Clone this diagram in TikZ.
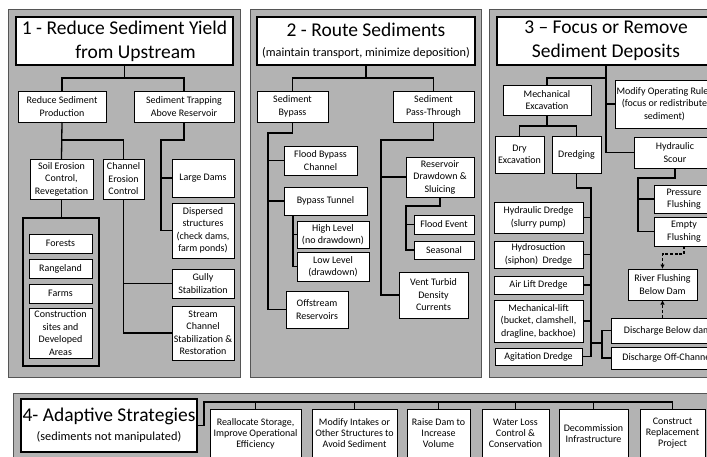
\documentclass[tikz,border=0pt]{standalone}
\usepackage{fontspec}
\setmainfont{Carlito}
\usetikzlibrary{arrows.meta}
\definecolor{panelgray}{RGB}{179,179,179}
\definecolor{paneledge}{RGB}{85,85,85}
\newcommand\bx[7][]{\node[box,#1,minimum width={(#5)-(#3)},minimum height={(#6)-(#4)}] (#2) at ({((#3)+(#5))/2},{((#4)+(#6))/2}) {#7};}
\begin{document}
\begin{tikzpicture}[x=1pt,y=-1pt,
  box/.style={draw,fill=white,line width=0.8pt,align=center,inner sep=1pt,outer sep=0pt,font=\fontsize{10}{12.5}\selectfont},
  lowbox/.style={font=\fontsize{10}{11}\selectfont},
  titlebox/.style={line width=2.2pt,font=\fontsize{19.5}{24}\selectfont},
  landbox/.style={fill=none,line width=2.2pt},
  panel/.style={fill=panelgray,draw=paneledge,line width=1pt},
  conn/.style={line width=1.3pt},
  dconn/.style={line width=1.3pt,dash pattern=on 3pt off 1.8pt,-{Latex[length=4.5pt,width=4.5pt]}},
  sub/.style={font=\fontsize{12.3}{14}\selectfont}]
\useasboundingbox (0,0) rectangle (707,456);
\clip (0,0) rectangle (707,456);
\fill[white] (0,0) rectangle (707,456);
% panels
\draw[panel] (8,9) rectangle (240,377);
\draw[panel] (250,9) rectangle (481,377);
\draw[panel] (489,9) rectangle (730,377);
\draw[panel] (13,393) rectangle (730,480);
% ---------- panel 1
\bx[titlebox]{T1}{16}{17}{233}{65}{1 - Reduce Sediment Yield\\\hspace*{22pt}from Upstream}
\bx{RSP}{18}{91}{106}{122}{Reduce Sediment\\Production}
\bx{STAR}{134}{91}{234}{122}{Sediment Trapping\\Above Reservoir}
\bx{SEC}{30}{159}{93}{199}{Soil Erosion\\Control,\\Revegetation}
\bx{CEC}{103}{159}{144}{199}{Channel\\Erosion\\Control}
\bx{LD}{172}{159}{234}{197}{Large Dams}
\bx{DS}{172}{203}{234}{258}{Dispersed\\structures\\(check dams,\\farm ponds)}
\bx{GS}{172}{269}{234}{298}{Gully\\Stabilization}
\bx{SCS}{172}{306}{234}{360}{Stream\\Channel\\Stabilization \&\\Restoration}
\bx[landbox]{LAND}{23}{218}{99}{366}{}
\bx{FO}{29}{234}{92}{253}{Forests}
\bx{RA}{29}{259}{92}{278}{Rangeland}
\bx{FA}{29}{284}{92}{303}{Farms}
\bx{CO}{29}{308}{92}{358}{Construction\\sites and\\Developed\\Areas}
\draw[conn] (T1.south) -- (T1.south |- 0,78);
\draw[conn] (RSP.north) |- (STAR.north |- 0,78) -- (STAR.north);
\draw[conn] (RSP.south) -- (SEC.north);
\draw[conn] (RSP.south |- 0,140) -| (CEC.north);
\draw[conn] (STAR.south) |- (161,140) |- (DS.west);
\draw[conn] (161,0 |- LD.west) -- (LD.west);
\draw[conn] (CEC.south) |- (SCS.west);
\draw[conn] (CEC.south |- GS.west) -- (GS.west);
\draw[conn] (SEC.south) -- (SEC.south |- LAND.north);
% ---------- panel 2
\bx[titlebox]{T2}{257}{17}{475}{65}{2 - Route Sediments\\[-4pt]{\fontsize{12.3}{14}\selectfont (maintain transport, minimize deposition)}}
\bx{SB}{257}{91}{328}{122}{Sediment\\Bypass}
\bx{SPT}{393}{91}{474}{122}{Sediment\\Pass-Through}
\bx{FBC}{284}{146}{357}{175}{Flood Bypass\\Channel}
\bx{BT}{284}{187}{367}{215}{Bypass Tunnel}
\bx{HL}{297}{221}{369}{248}{High Level\\(no drawdown)}
\bx{LL}{297}{252}{369}{281}{Low Level\\(drawdown)}
\bx{OR}{286}{291}{348}{328}{Offstream\\Reservoirs}
\bx{RDS}{406}{157}{474}{197}{Reservoir\\Drawdown \&\\Sluicing}
\bx{FE}{414}{215}{474}{234}{Flood Event}
\bx{SEA}{414}{241}{474}{259}{Seasonal}
\bx{VTD}{399}{272}{468}{318}{Vent Turbid\\Density\\Currents}
\draw[conn] (T2.south) -- (T2.south |- 0,78);
\draw[conn] (SB.north) |- (SPT.north |- 0,78) -- (SPT.north);
\draw[conn] (SB.south) |- (268,133) |- (OR.west);
\draw[conn] (268,0 |- FBC.west) -- (FBC.west);
\draw[conn] (268,0 |- BT.west) -- (BT.west);
\draw[conn] (293,0 |- BT.south) |- (LL.west);
\draw[conn] (293,0 |- HL.west) -- (HL.west);
\draw[conn] (SPT.south) |- (381,140) |- (VTD.west);
\draw[conn] (381,0 |- RDS.west) -- (RDS.west);
\draw[conn] (RDS.south) |- (406,206) |- (SEA.west);
\draw[conn] (406,0 |- FE.west) -- (FE.west);
% ---------- panel 3
\bx[titlebox]{T3}{497}{17}{715}{65}{3 -- Focus or Remove\\Sediment Deposits}
\bx{ME}{503}{85}{591}{115}{Mechanical\\Excavation}
\bx{MOR}{617}{80}{712}{128}{Modify Operating Rules\\(focus or redistribute\\sediment)}
\bx{HS}{634}{137}{716}{168}{Hydraulic\\Scour}
\bx{DE}{495}{136}{544}{173}{Dry\\Excavation}
\bx{DR}{552}{136}{601}{173}{Dredging}
\bx{HD}{494}{202}{583}{233}{Hydraulic Dredge\\(slurry pump)}
\bx{HYS}{494}{241}{583}{268}{Hydrosuction\\(siphon)~ Dredge}
\bx{AL}{494}{276}{583}{294}{Air Lift Dredge}
\bx{ML}{494}{300}{583}{342}{Mechanical-lift\\(bucket, clamshell,\\dragline, backhoe)}
\bx{AG}{495}{348}{582}{365}{Agitation Dredge}
\bx{PF}{654}{185}{714}{213}{Pressure\\Flushing}
\bx{EF}{654}{217}{714}{246}{Empty\\Flushing}
\bx{RF}{628}{269}{697}{300}{River Flushing\\Below Dam}
\bx{DBD}{611}{318}{724}{343}{Discharge Below dam}
\bx{DOC}{611}{347}{724}{369}{Discharge Off-Channel}
\draw[conn] (T3.south) |- (HS.west);
\draw[conn] (ME.north) |- (T3.south |- 0,78);
\draw[conn] (T3.south |- MOR.west) -- (MOR.west);
\draw[conn] (ME.south) -- (ME.south |- 0,126);
\draw[conn] (DE.north) |- (DR.north |- 0,126) -- (DR.north);
\draw[conn] (DR.south) |- (591,188) |- (AG.east);
\draw[conn] (591,0 |- HD.east) -- (HD.east);
\draw[conn] (591,0 |- HYS.east) -- (HYS.east);
\draw[conn] (591,0 |- AL.east) -- (AL.east);
\draw[conn] (591,0 |- ML.east) -- (ML.east);
\draw[conn] (591,343) -- (602,343);
\draw[conn] (DBD.west) -| (602,345) |- (DOC.west);
\draw[conn] (HS.south) |- (638,178) |- (EF.west);
\draw[conn] (638,0 |- PF.west) -- (PF.west);
\draw[dconn] (EF.south) -- ++(0,8) -| (RF.north);
\draw[dconn] (DBD.north -| RF.south) -- (RF.south);
% ---------- panel 4
\bx[titlebox]{T4}{21}{399}{197}{452}{4- Adaptive Strategies\\[-5pt]{\fontsize{12.3}{14}\selectfont (sediments not manipulated)}}
\bx[lowbox]{RE}{210}{409}{301}{458}{Reallocate Storage,\\Improve Operational\\Efficiency}
\bx[lowbox]{MI}{312}{409}{397}{458}{Modify Intakes or\\Other Structures to\\Avoid Sediment}
\bx[lowbox]{RD}{407}{409}{470}{458}{Raise Dam to\\Increase\\Volume}
\bx[lowbox]{WL}{482}{409}{549}{458}{Water Loss\\Control \&\\Conservation}
\bx[lowbox]{DI}{559}{409}{628}{458}{Decommission\\Infrastructure}
\bx[lowbox]{CR}{640}{409}{705}{458}{Construct\\Replacement\\Project}
\draw[conn] (T4.east) -- ++(7,0) |- (CR.north |- 0,402) -- (CR.north);
\foreach \n in {RE,MI,RD,WL,DI} \draw[conn] (\n.north) -- (\n.north |- 0,402);
\end{tikzpicture}
\end{document}
